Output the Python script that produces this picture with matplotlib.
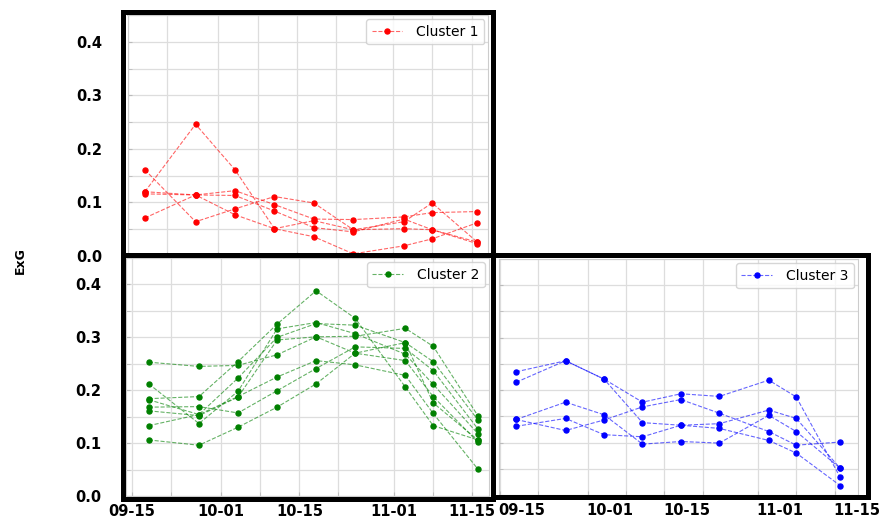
import matplotlib
matplotlib.use('Agg')
import matplotlib.pyplot as plt
import matplotlib.dates as mdates
from matplotlib.colors import to_rgba
from matplotlib.patches import Rectangle
from matplotlib.ticker import MultipleLocator, FormatStrFormatter
from matplotlib.transforms import ScaledTranslation

#---acquisition dates (year not shown on the chart)
dates = ['2019-09-18', '2019-09-27', '2019-10-04', '2019-10-11', '2019-10-18',
         '2019-10-25', '2019-11-03', '2019-11-08', '2019-11-16']

#---ExG per field, one list per field
cluster1 = [
    [0.120, 0.246, 0.161, 0.051, 0.036, 0.004, 0.019, 0.032, 0.062],
    [0.161, 0.064, 0.088, 0.111, 0.099, 0.049, 0.064, 0.099, 0.026],
    [0.120, 0.114, 0.122, 0.096, 0.069, 0.068, 0.073, 0.081, 0.083],
    [0.116, 0.114, 0.113, 0.084, 0.053, 0.045, 0.069, 0.049, 0.023],
    [0.071, 0.114, 0.077, 0.051, 0.066, 0.049, 0.051, 0.049, 0.026],
]

cluster2 = [
    [0.253, 0.245, 0.247, 0.267, 0.301, 0.302, 0.317, 0.283, 0.152],
    [0.212, 0.137, 0.198, 0.316, 0.328, 0.307, 0.268, 0.211, 0.118],
    [0.184, 0.188, 0.254, 0.325, 0.388, 0.336, 0.206, 0.133, 0.106],
    [0.182, 0.154, 0.223, 0.300, 0.326, 0.323, 0.290, 0.254, 0.144],
    [0.168, 0.169, 0.157, 0.199, 0.241, 0.282, 0.279, 0.237, 0.127],
    [0.161, 0.152, 0.187, 0.295, 0.301, 0.270, 0.256, 0.188, 0.102],
    [0.133, 0.154, 0.188, 0.225, 0.256, 0.248, 0.228, 0.156, 0.051],
    [0.106, 0.096, 0.130, 0.168, 0.212, 0.270, 0.290, 0.176, 0.106],
]

cluster3 = [
    [0.235, 0.256, 0.221, 0.177, 0.193, 0.188, 0.219, 0.187, 0.034],
    [0.215, 0.256, 0.221, 0.138, 0.133, 0.136, 0.162, 0.146, 0.051],
    [0.144, 0.123, 0.143, 0.168, 0.182, 0.156, 0.121, 0.095, 0.101],
    [0.144, 0.177, 0.153, 0.097, 0.102, 0.099, 0.152, 0.121, 0.051],
    [0.131, 0.146, 0.115, 0.111, 0.133, 0.127, 0.104, 0.080, 0.018],
]

W, H = 883, 520
fig = plt.figure(figsize=(W / 100, H / 100), dpi=100)
x = mdates.datestr2num(dates)


def px_axes(x0, y0, x1, y1):
    return fig.add_axes([x0 / W, 1 - y1 / H, (x1 - x0) / W, (y1 - y0) / H])


def frame(x0, y0, x1, y1):
    fig.add_artist(Rectangle((x0 / W, 1 - y1 / H), (x1 - x0) / W, (y1 - y0) / H,
                             transform=fig.transFigure, fill=False,
                             ec='black', lw=3.6, zorder=5))


def panel(ax, series, color, label, xlim, xlabels=True, ylabels=True):
    for i, s in enumerate(series):
        ax.plot(x, s, ls='--', lw=0.8, color=to_rgba(color, 0.6),
                marker='o', ms=3.6, mfc=color, mec=color,
                label=label if i == 0 else None)
    ax.set_xlim(mdates.datestr2num(xlim[0]), mdates.datestr2num(xlim[1]))
    ax.set_ylim(0, 0.45)
    ax.xaxis.set_major_locator(mdates.DayLocator(bymonthday=[1, 15]))
    ax.xaxis.set_minor_locator(mdates.DayLocator(bymonthday=[8, 22]))
    ax.xaxis.set_major_formatter(mdates.DateFormatter('%m-%d'))
    ax.yaxis.set_major_locator(MultipleLocator(0.1))
    ax.yaxis.set_minor_locator(MultipleLocator(0.05))
    ax.yaxis.set_major_formatter(FormatStrFormatter('%.1f'))
    ax.grid(which='both', color='#dddddd', lw=0.9)
    ax.set_axisbelow(True)
    ax.tick_params(which='both', direction='in', length=3, color='#bbbbbb',
                   labelsize=10.5, labelbottom=xlabels, labelleft=ylabels)
    ax.tick_params(axis='y', pad=18)
    ax.tick_params(axis='x', pad=6)
    for sp in ax.spines.values():
        sp.set_color('#cccccc')
    plt.setp(ax.get_xticklabels(), fontweight='bold')
    plt.setp(ax.get_yticklabels(), fontweight='bold')
    ax.legend(loc='upper right', fontsize=10, handlelength=2.2,
              handletextpad=1.0, borderaxespad=0.3, edgecolor='#cccccc')


ax1 = px_axes(127.5, 15, 488.5, 256)
ax2 = px_axes(126, 258, 489, 496)
ax3 = px_axes(499, 259, 858, 495)

panel(ax1, cluster1, 'red', 'Cluster 1',
      ('2019-09-14 22:00', '2019-11-18 00:00'), xlabels=False)
panel(ax2, cluster2, 'green', 'Cluster 2',
      ('2019-09-13 22:00', '2019-11-18 00:00'))
panel(ax3, cluster3, 'blue', 'Cluster 3',
      ('2019-09-14 21:00', '2019-11-19 06:00'), ylabels=False)

#---right panel date labels sit a bit to the right in the original
shift = ScaledTranslation(16 / 72, 0, fig.dpi_scale_trans)
for lbl in ax3.get_xticklabels():
    lbl.set_transform(lbl.get_transform() + shift)

frame(122.5, 12, 492.5, 254.5)
frame(122.5, 254.5, 492.5, 498.5)
frame(492.5, 254.5, 867.5, 497)

fig.text(20 / W, 1 - 261 / H, 'ExG', rotation=90, ha='center', va='center',
         fontsize=9, fontweight='bold')

fig.savefig('out.png', dpi=100)
